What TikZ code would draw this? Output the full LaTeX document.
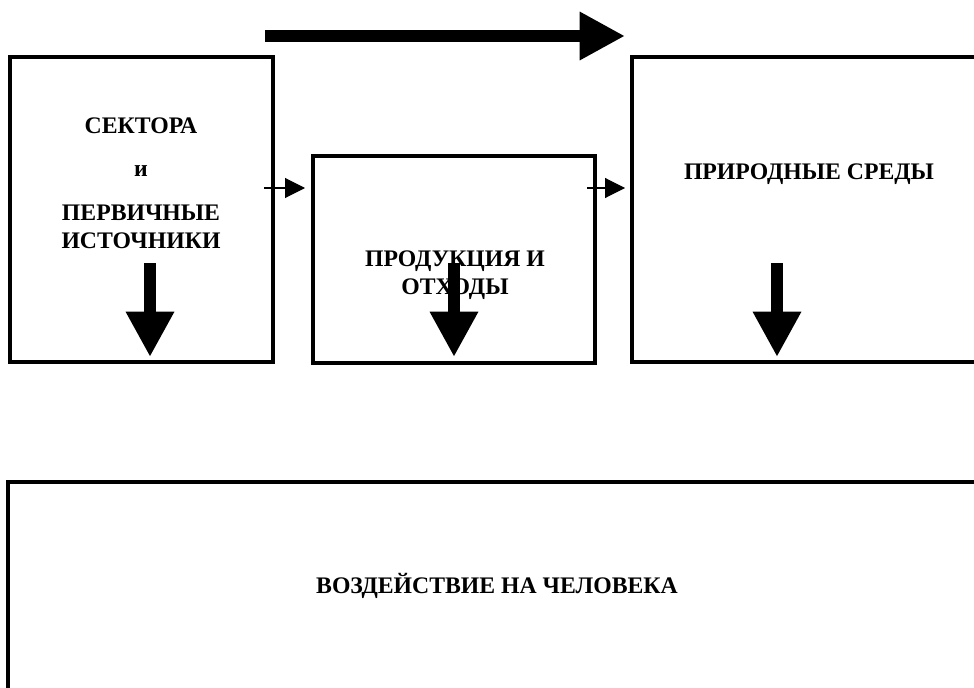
\documentclass[tikz,border=0pt]{standalone}
\usepackage{fontspec}
\setmainfont{Liberation Serif}
\usetikzlibrary{arrows.meta}
\begin{document}
\begin{tikzpicture}[x=0.75pt,y=-0.75pt,
  box/.style={draw,line width=2.6pt,inner sep=0pt,outer sep=0pt},
  lbl/.style={font=\fontsize{17.8}{20.8}\selectfont\bfseries,align=center,inner sep=0pt},
  bigarrow/.style={line width=9.5pt,-{Triangle[length=34pt,width=34pt]}},
  thinarrow/.style={line width=0.8pt,-{Triangle[length=15pt,width=15pt]}}]
\useasboundingbox (0,0) rectangle (974,688);
\clip (0,0) rectangle (974,688);
% boxes
\node[box,minimum width=197.25pt,minimum height=228.75pt] (b1) at (141.5,209.5) {};
\node[box,minimum width=211.5pt,minimum height=155.25pt] (b2) at (454,259.5) {};
\node[box,minimum width=351pt,minimum height=228.75pt] (b3) at (866,209.5) {};
\node[box,minimum width=819pt,minimum height=238.5pt] (b4) at (554,641) {};
% texts
\node[lbl] (t1) at (141,183) {СЕКТОРА\\[12pt]и\\[12pt]ПЕРВИЧНЫЕ\\ИСТОЧНИКИ};
\node[lbl] (t2) at (455,275) {ПРОДУКЦИЯ И\\ОТХОДЫ};
\node[lbl] (t3) at (809,174) {ПРИРОДНЫЕ СРЕДЫ};
\node[lbl] (t4) at (497,586) {ВОЗДЕЙСТВИЕ НА ЧЕЛОВЕКА};
% coordinates for connectors
\coordinate (topS) at (265,36);
\coordinate (topE) at (625,36);
\coordinate (a1S) at (264,188);
\coordinate (a1E) at (305,188);
\coordinate (a2S) at (587,188);
\coordinate (a2E) at (625,188);
\coordinate (d1S) at (150,263);
\coordinate (d1E) at (150,357);
\coordinate (d2S) at (454,263);
\coordinate (d2E) at (454,357);
\coordinate (d3S) at (777,263);
\coordinate (d3E) at (777,357);
% arrows
\draw[bigarrow] (topS) -- (topE);
\draw[thinarrow] (a1S) -- (a1E);
\draw[thinarrow] (a2S) -- (a2E);
\draw[bigarrow] (d1S) -- (d1E);
\draw[bigarrow] (d2S) -- (d2E);
\draw[bigarrow] (d3S) -- (d3E);
\end{tikzpicture}
\end{document}
